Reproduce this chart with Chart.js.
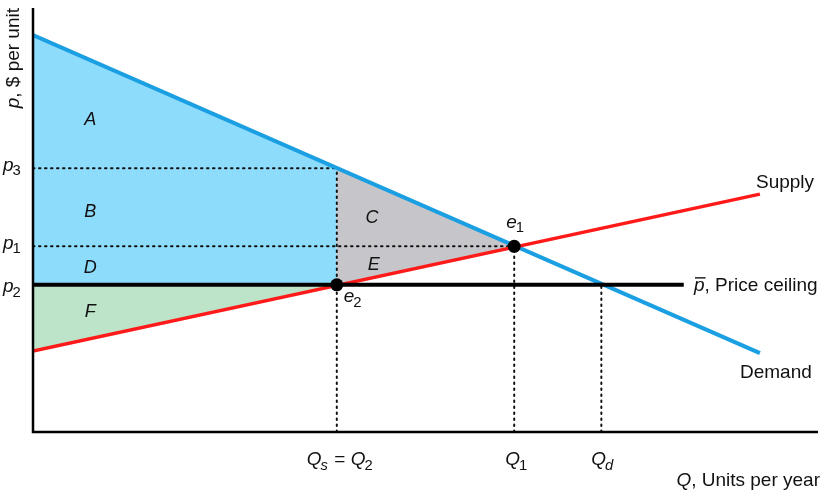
<!DOCTYPE html>
<html>
<head>
<meta charset="utf-8">
<script src="https://cdn.jsdelivr.net/npm/chart.js@4/dist/chart.umd.min.js"></script>
<style>
html,body{margin:0;padding:0;background:#fff;}
#wrap{width:833px;height:499px;}
</style>
</head>
<body>
<div id="wrap"><canvas id="c" width="833" height="499"></canvas></div>
<script>
// ---- data (Q = quantity units, p = price units) ----
const demandQ = [0, 92.6];
const demandP = [93.6, 18.6];
const supplyQ = [0, 92.6];
const supplyP = [19.1, 56.1];
const ceilingQ = [0, 82.9];
const ceilingP = 34.7;          // p-bar = p2
const p3 = 62.2;
const p1 = 43.8;
const Q2 = 38.7;                // Qs = Q2
const Q1 = 61.3;
const Qd = 72.4;
const equilibriumPoints = [{x: Q1, y: p1, name: 'e', sub: '1'}, {x: Q2, y: ceilingP, name: 'e', sub: '2'}];
const pTickLabels = [['p','3'], ['p','1'], ['p','2']];
const pTickValues = [p3, p1, ceilingP];
const qTickLabels = ['Qs = Q2', 'Q1', 'Qd'];
const qTickValues = [Q2, Q1, Qd];
const regionLabels = ['A', 'B', 'C', 'D', 'E', 'F'];

const FONT = '"Liberation Sans", Arial, Helvetica, sans-serif';

const blueArea = [{x: demandQ[0], y: demandP[0]}, {x: Q2, y: p3}, {x: Q2, y: ceilingP}, {x: 0, y: ceilingP}, {x: demandQ[0], y: demandP[0]}];
const grayArea = [{x: Q2, y: p3}, {x: Q1, y: p1}, {x: Q2, y: ceilingP}, {x: Q2, y: p3}];
const greenArea = [{x: 0, y: ceilingP}, {x: Q2, y: ceilingP}, {x: supplyQ[0], y: supplyP[0]}, {x: 0, y: ceilingP}];

const dotted = {borderColor: '#111', borderWidth: 2, borderDash: [1.5, 4.5], borderCapStyle: 'round', pointRadius: 0, showLine: true, fill: false};

const datasets = [
  {label: 'blue', data: blueArea, showLine: true, borderWidth: 0, borderColor: 'rgba(0,0,0,0)', backgroundColor: '#8ddcfb', fill: 'shape', pointRadius: 0, order: 10},
  {label: 'gray', data: grayArea, showLine: true, borderWidth: 0, borderColor: 'rgba(0,0,0,0)', backgroundColor: '#c6c6ca', fill: 'shape', pointRadius: 0, order: 9},
  {label: 'green', data: greenArea, showLine: true, borderWidth: 0, borderColor: 'rgba(0,0,0,0)', backgroundColor: '#bde4c8', fill: 'shape', pointRadius: 0, order: 8},
  Object.assign({label: 'p3 dots', data: [{x: 0, y: p3}, {x: Q2, y: p3}], order: 7}, dotted),
  Object.assign({label: 'p1 dots', data: [{x: 0, y: p1}, {x: Q1, y: p1}], order: 7}, dotted),
  Object.assign({label: 'Q2 dots', data: [{x: Q2, y: 0}, {x: Q2, y: p3}], order: 7}, dotted),
  Object.assign({label: 'Q1 dots', data: [{x: Q1, y: 0}, {x: Q1, y: p1}], order: 7}, dotted),
  Object.assign({label: 'Qd dots', data: [{x: Qd, y: 0}, {x: Qd, y: ceilingP}], order: 7}, dotted),
  {label: 'Demand', data: demandQ.map((q, i) => ({x: q, y: demandP[i]})), showLine: true, borderColor: '#1a9fe3', borderWidth: 4, pointRadius: 0, fill: false, order: 5},
  {label: 'Supply', data: supplyQ.map((q, i) => ({x: q, y: supplyP[i]})), showLine: true, borderColor: '#ff1a1a', borderWidth: 3.5, pointRadius: 0, fill: false, order: 4},
  {label: 'Ceiling', data: ceilingQ.map(q => ({x: q, y: ceilingP})), showLine: true, borderColor: '#000', borderWidth: 4, pointRadius: 0, fill: false, order: 3},
  {label: 'Equilibria', data: equilibriumPoints.map(p => ({x: p.x, y: p.y})), showLine: false, pointRadius: 6.5, pointBackgroundColor: '#000', pointBorderWidth: 0, order: 1}
];

function txt(ctx, s, x, y, size, italic, align) {
  ctx.font = (italic ? 'italic ' : '') + size + 'px ' + FONT;
  ctx.textAlign = align || 'left';
  ctx.fillText(s, x, y);
  return ctx.measureText(s).width;
}
function sub(ctx, main, s, x, y, size) {
  let w = txt(ctx, main, x, y, size, true);
  w += txt(ctx, s, x + w - 1, y + size * 0.32, size * 0.78, /[a-z]/.test(s));
  return w;
}
function subWidth(ctx, main, s, size) {
  ctx.font = 'italic ' + size + 'px ' + FONT;
  let w = ctx.measureText(main).width;
  ctx.font = (/[a-z]/.test(s) ? 'italic ' : '') + (size * 0.78) + 'px ' + FONT;
  return w + ctx.measureText(s).width - 1;
}

const annotate = {
  id: 'annotate',
  afterDraw(chart) {
    const ctx = chart.ctx, xs = chart.scales.x, ys = chart.scales.y, a = chart.chartArea;
    const X = v => xs.getPixelForValue(v), Y = v => ys.getPixelForValue(v);
    ctx.save();
    // axes
    ctx.strokeStyle = '#000'; ctx.lineWidth = 2.5; ctx.lineCap = 'butt';
    ctx.beginPath();
    ctx.moveTo(a.left, a.top); ctx.lineTo(a.left, a.bottom); ctx.lineTo(a.right, a.bottom);
    ctx.stroke();
    ctx.fillStyle = '#111'; ctx.textBaseline = 'middle';
    // region letters
    const regionPos = {A: [7.3, 73.6], B: [7.3, 51.9], C: [43.2, 50.5], D: [7.3, 38.6], E: [43.4, 39.4], F: [7.3, 28.3]};
    regionLabels.forEach(l => txt(ctx, l, X(regionPos[l][0]), Y(regionPos[l][1]), 18, true, 'center'));
    // p tick labels
    const pOff = [0, 0, 5];
    pTickValues.forEach((v, i) => sub(ctx, pTickLabels[i][0], pTickLabels[i][1], 3, Y(v) - 3 + pOff[i], 19));
    // Q tick labels
    const qy = 460;
    {
      const size = 19;
      const w1 = subWidth(ctx, 'Q', 's', size);
      ctx.font = size + 'px ' + FONT; const we = ctx.measureText(' = ').width;
      let x0 = X(qTickValues[0]) - 30;
      sub(ctx, 'Q', 's', x0, qy, size);
      txt(ctx, ' = ', x0 + w1 + 1, qy, size, false);
      sub(ctx, 'Q', '2', x0 + w1 + we + 1, qy, size);
    }
    sub(ctx, 'Q', '1', X(qTickValues[1]) - 9, qy, 19);
    sub(ctx, 'Q', 'd', X(qTickValues[2]) - 10, qy, 19);
    // equilibrium labels
    sub(ctx, equilibriumPoints[0].name, equilibriumPoints[0].sub, X(equilibriumPoints[0].x) - 8, Y(equilibriumPoints[0].y) - 24, 19);
    sub(ctx, equilibriumPoints[1].name, equilibriumPoints[1].sub, X(equilibriumPoints[1].x) + 7, Y(equilibriumPoints[1].y) + 12, 19);
    // curve labels
    txt(ctx, 'Supply', 756, 183, 19, false);
    txt(ctx, 'Demand', 740, 373, 19, false);
    {
      const x0 = 694, y0 = Y(ceilingP) + 1;
      const w = txt(ctx, 'p', x0, y0, 19, true);
      ctx.lineWidth = 1.3; ctx.beginPath(); ctx.moveTo(x0 + 1, y0 - 8); ctx.lineTo(x0 + w + 1, y0 - 8); ctx.stroke();
      txt(ctx, ', Price ceiling', x0 + w, y0, 19, false);
    }
    // axis titles
    {
      const size = 19;
      ctx.font = size + 'px ' + FONT;
      const rest = ', $ per unit';
      const wr = ctx.measureText(rest).width;
      ctx.font = 'italic ' + size + 'px ' + FONT;
      const wp = ctx.measureText('p').width;
      ctx.save();
      ctx.translate(14, 8);
      ctx.rotate(-Math.PI / 2);
      const start = -(wp + wr);
      txt(ctx, 'p', start, 0, size, true);
      txt(ctx, rest, start + wp, 0, size, false);
      ctx.restore();
    }
    {
      const size = 19;
      ctx.font = size + 'px ' + FONT;
      const rest = ', Units per year';
      const wr = ctx.measureText(rest).width;
      ctx.font = 'italic ' + size + 'px ' + FONT;
      const wq = ctx.measureText('Q').width;
      const xr = 820;
      txt(ctx, 'Q', xr - wr - wq, 481, size, true);
      txt(ctx, rest, xr - wr, 481, size, false);
    }
    ctx.restore();
  }
};

new Chart(document.getElementById('c'), {
  type: 'scatter',
  data: {datasets},
  options: {
    responsive: false,
    animation: false,
    devicePixelRatio: 1,
    layout: {padding: {left: 33, top: 8, right: 15, bottom: 67}},
    plugins: {legend: {display: false}, tooltip: {enabled: false}},
    scales: {
      x: {type: 'linear', min: 0, max: 100, display: false},
      y: {type: 'linear', min: 0, max: 100, display: false}
    }
  },
  plugins: [annotate]
});
</script>
</body>
</html>
